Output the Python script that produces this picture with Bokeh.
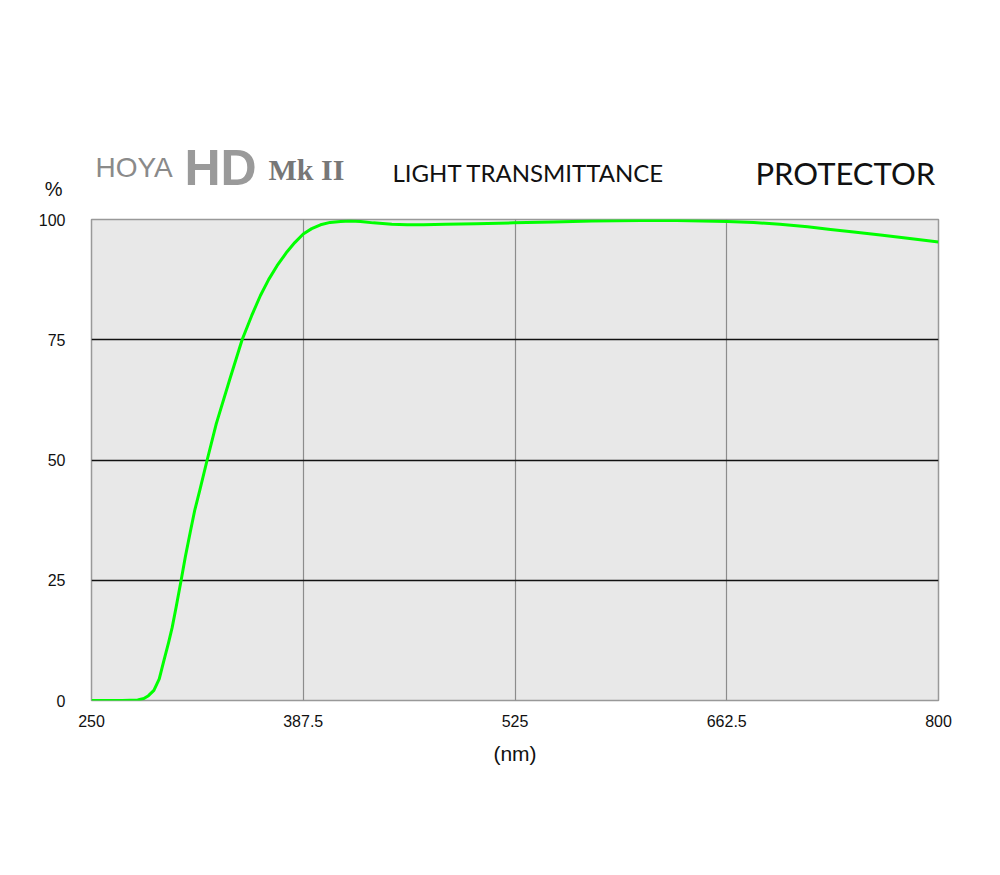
from bokeh.plotting import figure
from bokeh.models import FixedTicker, Range1d
from bokeh.layouts import column
from bokeh.core.properties import value
from bokeh.embed import file_html
from bokeh.resources import INLINE

# ---- data ----
wavelength = [250, 270, 280, 284, 287, 290.5, 294, 297, 300, 302.4, 305, 308.2, 311, 314.3, 317,
              320.3, 325.1, 331, 340, 347.8, 354, 359.7, 365, 370.5, 377, 382, 387.5, 393,
              398.7, 405, 411.7, 418, 424.7, 433, 445, 455, 465.6, 480, 500, 524, 550, 575,
              606.5, 630, 662.8, 680, 697, 715, 729.9, 745, 762.3, 780, 800]
transmittance = [0, 0, 0.1, 0.4, 1.0, 2.1, 4.5, 8.3, 12, 15.2, 19.5, 25, 30, 35.3, 39.5,
                 43.7, 50, 57.5, 67, 75, 80, 84.2, 87.5, 90.4, 93.3, 95.2, 97.0, 98.1,
                 98.9, 99.4, 99.6, 99.7, 99.6, 99.3, 99.0, 98.9, 98.9, 99.0, 99.1, 99.3, 99.5, 99.7,
                 99.8, 99.8, 99.6, 99.4, 99.0, 98.5, 97.9, 97.4, 96.8, 96.1, 95.3]
x_ticks = [250, 387.5, 525, 662.5, 800]
x_tick_labels = ["250", "387.5", "525", "662.5", "800"]
y_ticks = [0, 25, 50, 75, 100]
y_tick_labels = ["0", "25", "50", "75", "100"]
unit_label = "%"

W, H = 1000, 875
HEAD = 205                            # height of the header strip
FL, FT, FR, FB = 91, 219, 938, 700    # frame edges in picture pixels

# ---- header strip (logo, titles, "%") ; its frame is aligned with the chart's frame ----
head = figure(width=W, height=HEAD, output_backend="svg", toolbar_location=None,
              x_range=Range1d(FL, FR), y_range=Range1d(HEAD, 0),
              x_axis_type=None, min_border_left=FL, min_border_right=W - FR,
              min_border_top=0, min_border_bottom=0)
head.grid.visible = False
head.outline_line_color = None
head.background_fill_color = "white"
head.border_fill_color = "white"
head.yaxis.ticker = FixedTicker(ticks=[188])
head.yaxis.major_label_overrides = {188: unit_label}
head.yaxis.axis_line_color = None
head.yaxis.major_tick_line_color = None
head.yaxis.minor_tick_line_color = None
head.yaxis.major_label_text_font = "Liberation Sans"
head.yaxis.major_label_text_font_size = "20px"
head.yaxis.major_label_text_color = "#111111"
head.yaxis.major_label_standoff = 23

def htext(px, py, text, size, font, color="#111111", style="normal", align="left"):
    head.text(x=[px], y=[py], text=[text], text_font=value(font), text_font_size=value(size),
              text_color=color, text_font_style=style, text_align=align, text_baseline="middle")

htext(95, 167, "HOYA", "28px", "Liberation Sans", color="#8a8a8a")
htext(184, 167, "HD", "50px", "Liberation Sans", color="#9a9a9a", style="bold")
htext(268, 169, "Mk II", "30px", "Liberation Serif", color="#777777", style="bold")
htext(392, 172, "LIGHT TRANSMITTANCE", "24px", "Lato")
htext(755, 172, "PROTECTOR", "31px", "Lato")

# ---- main chart ----
p = figure(width=W, height=H - HEAD, output_backend="svg", toolbar_location=None,
           x_range=Range1d(250, 800), y_range=Range1d(0, 100),
           min_border_left=FL, min_border_right=W - FR, min_border_top=FT - HEAD,
           min_border_bottom=H - FB)
p.background_fill_color = "#e8e8e8"
p.border_fill_color = "white"
p.outline_line_color = "#999999"
p.outline_line_width = 1.5

p.xaxis.ticker = FixedTicker(ticks=x_ticks)
p.xaxis.major_label_overrides = {t: l for t, l in zip(x_ticks, x_tick_labels)}
p.yaxis.ticker = FixedTicker(ticks=y_ticks)
p.yaxis.major_label_overrides = {t: l for t, l in zip(y_ticks, y_tick_labels)}
for ax in (p.xaxis, p.yaxis):
    ax.axis_line_color = None
    ax.major_tick_line_color = None
    ax.minor_tick_line_color = None
    ax.major_label_text_font = "Liberation Sans"
    ax.major_label_text_font_size = "16px"
    ax.major_label_text_color = "#111111"
p.xaxis.major_label_standoff = 8
p.yaxis.major_label_standoff = 20
p.xaxis.axis_label = "(nm)"
p.xaxis.axis_label_text_font = "Liberation Sans"
p.xaxis.axis_label_text_font_size = "21px"
p.xaxis.axis_label_text_font_style = "normal"
p.xaxis.axis_label_text_color = "#111111"
p.xaxis.axis_label_standoff = 12

p.xgrid.ticker = FixedTicker(ticks=[387.5, 525, 662.5])
p.xgrid.grid_line_color = "#8c8c8c"
p.xgrid.grid_line_width = 1.2
p.ygrid.ticker = FixedTicker(ticks=[25, 50, 75])
p.ygrid.grid_line_color = "#111111"
p.ygrid.grid_line_width = 1.4

p.line(wavelength, transmittance, line_color="#00ff00", line_width=3, line_join="round")

layout = column(head, p, spacing=0)
open("out.html", "w").write(file_html(layout, INLINE))
